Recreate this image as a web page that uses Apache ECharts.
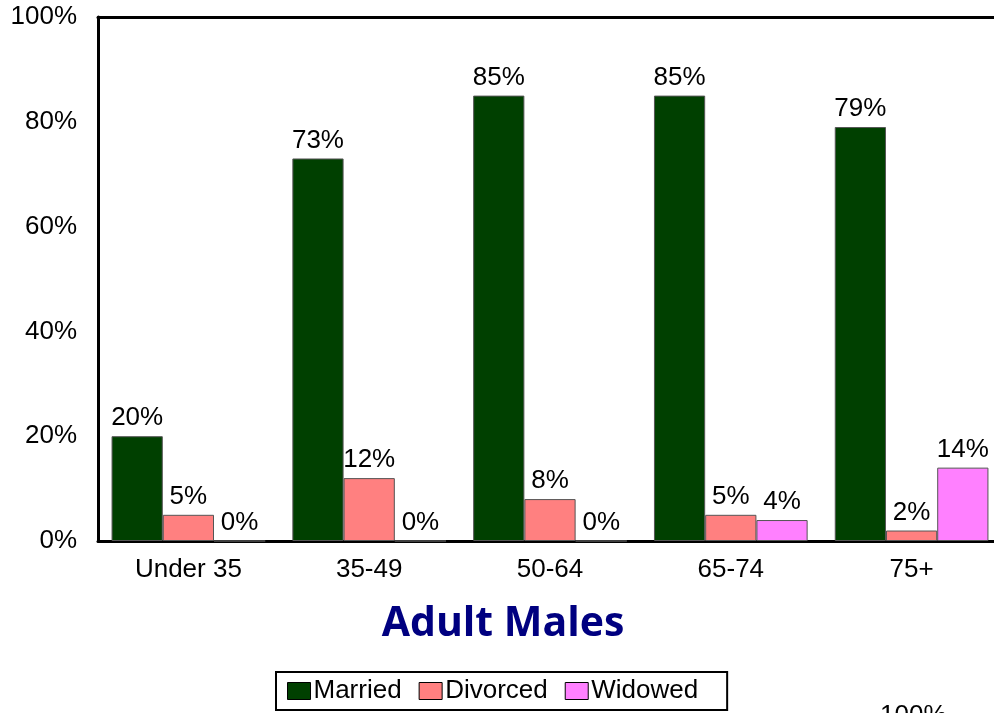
<!DOCTYPE html>
<html><head><meta charset="utf-8">
<script src="https://cdn.jsdelivr.net/npm/echarts@6/dist/echarts.min.js"></script>
<style>html,body{margin:0;padding:0;background:#fff}#c{width:994px;height:713px}</style>
</head><body><div id="c"></div>
<script>
var categories = ['Under 35', '35-49', '50-64', '65-74', '75+'];
var married = [20, 73, 85, 85, 79];
var divorced = [5, 12, 8, 5, 2];
var widowed = [0, 0, 0, 4, 14];
var seriesNames = ['Married', 'Divorced', 'Widowed'];
var yTicks = [0, 20, 40, 60, 80, 100];

var chart = echarts.init(document.getElementById('c'));
var F = 'Liberation Sans, Arial, sans-serif';
function s(name, data, color) {
  return {
    name: name, type: 'bar', data: data, barGap: '0%', barCategoryGap: '15%',
    itemStyle: { color: color, borderColor: '#555', borderWidth: 1 },
    label: { show: true, position: 'top', distance: 5, formatter: '{c}%', color: '#000', fontSize: 26, fontFamily: F },
    animation: false
  };
}
chart.setOption({
  animation: false,
  title: { text: 'Adult Males', left: 498, textAlign: 'center', top: 599,
    textStyle: { color: '#000080', fontSize: 41, fontWeight: 'bold', fontFamily: 'Open Sans, sans-serif' } },
  legend: {
    data: seriesNames, left: 276, top: 672, itemWidth: 23, itemHeight: 17, itemGap: 17, icon: 'rect',
    borderColor: '#000', borderWidth: 2, padding: [6, 29, 6, 11],
    textStyle: { fontSize: 26, fontFamily: F, color: '#000', padding: [0, 0, 0, -2] },
    itemStyle: { borderColor: '#000', borderWidth: 1 }
  },
  grid: { left: 98, top: 17, right: -8, bottom: 172, containLabel: false, outerBoundsMode: 'none' },
  xAxis: [{
    type: 'category', data: categories,
    axisLine: { lineStyle: { color: '#000', width: 3 } }, axisTick: { show: false },
    axisLabel: { fontSize: 26, fontFamily: F, color: '#000', margin: 16 }
  }, {
    type: 'category', data: categories, position: 'top',
    axisLine: { lineStyle: { color: '#000', width: 3 } }, axisTick: { show: false },
    axisLabel: { show: false }
  }],
  yAxis: {
    type: 'value', min: 0, max: 100, interval: 20,
    axisLine: { show: true, lineStyle: { color: '#000', width: 3 } }, axisTick: { show: false },
    splitLine: { show: false },
    axisLabel: { fontSize: 26, fontFamily: F, color: '#000', margin: 21,
      formatter: function (v) { return yTicks.indexOf(v) >= 0 ? v + '%' : ''; } }
  },
  graphic: [{ type: 'text', left: 880, top: 703, style: { text: '100%', fontSize: 26, fontFamily: F, fill: '#000' } }],
  series: [s('Married', married, '#004000'), s('Divorced', divorced, '#FF8080'), s('Widowed', widowed, '#FF80FF')]
});
</script></body></html>
